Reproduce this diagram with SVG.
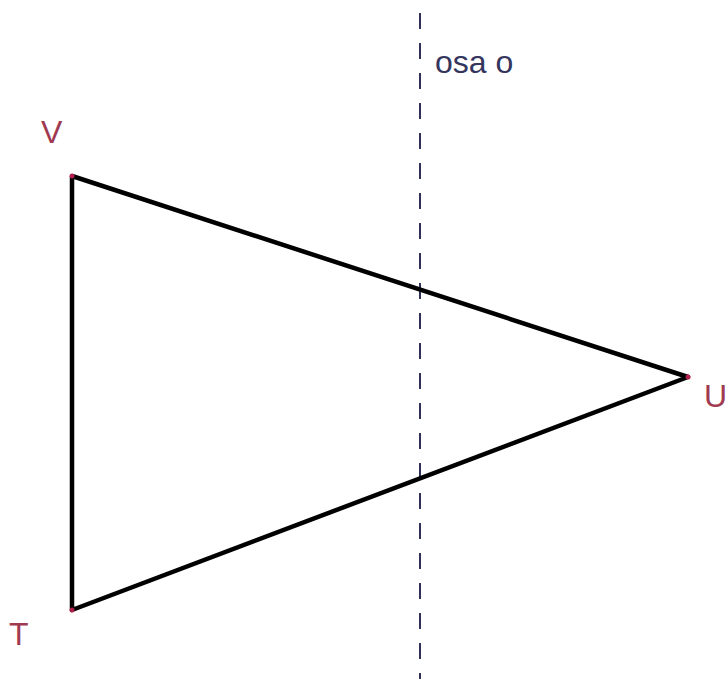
<svg xmlns="http://www.w3.org/2000/svg" width="728" height="679" viewBox="0 0 728 679">
<style>
.lbl{font-family:"Liberation Sans",Arial,sans-serif;font-size:32px;fill:#a03a50;font-weight:normal}
.axis{stroke:#2e3058;stroke-width:2;stroke-dasharray:16 14;fill:none}
.edge{stroke:#000;stroke-width:4.5;fill:none;stroke-linejoin:round}
.pt{fill:#b0204a}
</style>
<rect width="728" height="679" fill="#fff"/>
<g id="axis">
<line class="axis" x1="420" y1="13" x2="420" y2="679"/>
<text x="435" y="73" font-family="Liberation Sans,Arial,sans-serif" font-size="32" fill="#34365e">osa o</text>
</g>
<g id="connectors">
<polyline class="edge" points="72,176 688,377 72,610 72,176"/>
</g>
<g id="V"><circle class="pt" cx="72" cy="176" r="2.5"/><text class="lbl" x="41" y="143">V</text></g>
<g id="U"><circle class="pt" cx="688" cy="377" r="2.5"/><text class="lbl" x="704" y="407" font-size="29">U</text></g>
<g id="T"><circle class="pt" cx="72" cy="610" r="2.5"/><text class="lbl" x="9" y="645">T</text></g>
</svg>
